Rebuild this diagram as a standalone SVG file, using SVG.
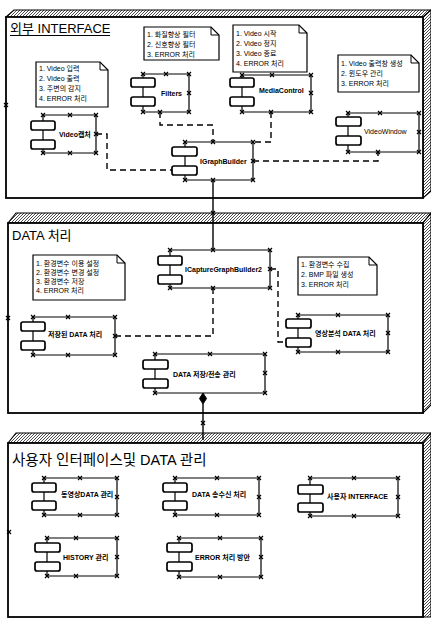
<svg xmlns="http://www.w3.org/2000/svg" xmlns:xlink="http://www.w3.org/1999/xlink" width="431" height="618" viewBox="0 0 431 618">
<style>
.pk{fill:#fff;stroke:#000;stroke-width:1.8}
.hf{fill:url(#hatch);stroke:#000;stroke-width:1.1}
.note{fill:#fff;stroke:#000;stroke-width:1.2}
.fold{fill:none;stroke:#000;stroke-width:1}
.ic{fill:#fff;stroke:#000;stroke-width:1.7}
.bx{fill:none;stroke:#000;stroke-width:1.2}
.dash{fill:none;stroke:#000;stroke-width:1.4;stroke-dasharray:6 4}
.solid{fill:none;stroke:#000;stroke-width:1.4}
text{font-family:"Liberation Sans","Noto Sans CJK KR",sans-serif;fill:#000}
.t{font-size:13px}
.nt{font-size:7px}
.lb{font-size:7px;font-weight:bold}
</style>
<defs>
<pattern id="hatch" width="3" height="3" patternUnits="userSpaceOnUse">
<rect width="3" height="3" fill="#fff"/>
<path d="M0,3L3,0" stroke="#000" stroke-width="0.7"/>
</pattern>
<path id="xm" d="M-2,-2L2,2M-2,2L2,-2" stroke="#000" stroke-width="1.2" fill="none"/>
</defs>
<rect width="431" height="618" fill="#fff"/>

<!-- Package 1 -->
<g id="pkg-external-interface">
<polygon class="hf" points="6,17 14,10 431,10 423,17"/>
<polygon class="hf" points="423,17 431,10 431,191 423,198"/>
<rect class="pk" x="6" y="17" width="417" height="181"/>
<text class="t" x="10" y="33">외부 INTERFACE</text>
<line x1="10" y1="35.5" x2="110" y2="35.5" stroke="#000" stroke-width="1"/>
<use href="#xm" x="6" y="105"/>
</g>

<!-- Package 2 -->
<g id="pkg-data">
<polygon class="hf" points="8,223 16,213 431,213 423,223"/>
<polygon class="hf" points="423,223 431,213 431,405 423,413"/>
<rect class="pk" x="8" y="223" width="415" height="190"/>
<text class="t" x="12" y="240">DATA 처리</text>
<use href="#xm" x="8" y="318"/>
</g>

<!-- Package 3 -->
<g id="pkg-user-data">
<polygon class="hf" points="8,443 16,433 431,433 423,443"/>
<polygon class="hf" points="423,443 431,433 431,617 423,617"/>
<rect class="pk" x="8" y="443" width="415" height="174"/>
<text class="t" x="12" y="465" style="font-size:14.5px">사용자 인터페이스및 DATA 관리</text>
<use href="#xm" x="9" y="532"/>
</g>

<!-- Notes -->
<g id="note-video">
<path class="note" d="M36,62H100L108,70V107H36Z"/>
<path class="fold" d="M100,62V70H108"/>
<text class="nt" x="39" y="71">1. Video 입력</text>
<text class="nt" x="39" y="81">2. Video 출력</text>
<text class="nt" x="39" y="91">3. 주변의 감지</text>
<text class="nt" x="39" y="101">4. ERROR 처리</text>
</g>
<g id="note-filters">
<path class="note" d="M144,27H211L219,35V60H144Z"/>
<path class="fold" d="M211,27V35H219"/>
<text class="nt" x="147" y="37">1. 화질향상 필터</text>
<text class="nt" x="147" y="47">2. 신호향상 필터</text>
<text class="nt" x="147" y="57">3. ERROR 처리</text>
</g>
<g id="note-mediacontrol">
<path class="note" d="M233,25H299L307,33V72H233Z"/>
<path class="fold" d="M299,25V33H307"/>
<text class="nt" x="236" y="36">1. Video 시작</text>
<text class="nt" x="236" y="46">2. Video 정지</text>
<text class="nt" x="236" y="56">3. Video 종료</text>
<text class="nt" x="236" y="66">4. ERROR 처리</text>
</g>
<g id="note-videowindow">
<path class="note" d="M338,55H411L419,63V92H338Z"/>
<path class="fold" d="M411,55V63H419"/>
<text class="nt" x="341" y="66">1. Video 출력창 생성</text>
<text class="nt" x="341" y="76">2. 윈도우 관리</text>
<text class="nt" x="341" y="86">3. ERROR 처리</text>
</g>
<g id="note-env">
<path class="note" d="M33,255H117L125,263V300H33Z"/>
<path class="fold" d="M117,255V263H125"/>
<text class="nt" x="36" y="266">1. 환경변수 이용 설정</text>
<text class="nt" x="36" y="275">2. 환경변수 변경 설정</text>
<text class="nt" x="36" y="284">3. 환경변수 저장</text>
<text class="nt" x="36" y="293">4. ERROR 처리</text>
</g>
<g id="note-bmp">
<path class="note" d="M298,257H369L377,265V295H298Z"/>
<path class="fold" d="M369,257V265H377"/>
<text class="nt" x="301" y="267">1. 환경변수 수집</text>
<text class="nt" x="301" y="277">2. BMP 파일 생성</text>
<text class="nt" x="301" y="287">3. ERROR 처리</text>
</g>

<!-- Connectors -->
<g id="connectors">
<path class="dash" d="M160,112V125H213V142"/>
<path class="dash" d="M271,112V142H253"/>
<path class="dash" d="M253,161H378V152"/>
<path class="dash" d="M96,134H107V170H172"/>
<path class="solid" d="M213,180V250"/>
<use href="#xm" x="213" y="213"/>
<path class="dash" d="M115,336H213V288"/>
<path class="dash" d="M270,269H278V342H286"/>
<path class="solid" d="M203,404V440"/>
<polygon points="203,393 206.5,398.5 203,404 199.5,398.5" fill="#000" stroke="#000" stroke-width="1"/>
<use href="#xm" x="203" y="423"/>
</g>

<!-- Components: package 1 -->
<g id="video-capture">
<rect class="ic" x="31" y="121" width="24" height="9" rx="2"/>
<rect class="ic" x="31" y="140" width="24" height="9" rx="2"/>
<path class="bx" d="M43,130V140M43,121V115H96V153H43V149"/>
<use href="#xm" x="43" y="115"/><use href="#xm" x="70" y="115"/><use href="#xm" x="96" y="115"/>
<use href="#xm" x="96" y="134"/><use href="#xm" x="96" y="153"/><use href="#xm" x="70" y="153"/><use href="#xm" x="43" y="153"/>
<text class="lb" x="59" y="137">Video캡처</text>
</g>
<g id="filters">
<rect class="ic" x="131" y="78" width="24" height="9" rx="2"/>
<rect class="ic" x="131" y="97" width="24" height="9" rx="2"/>
<path class="bx" d="M143,87V97M143,78V74H189V112H143V106"/>
<use href="#xm" x="143" y="74"/><use href="#xm" x="166" y="74"/><use href="#xm" x="189" y="74"/>
<use href="#xm" x="189" y="93"/><use href="#xm" x="189" y="112"/><use href="#xm" x="160" y="112"/><use href="#xm" x="143" y="112"/>
<text class="lb" x="161" y="96">Filters</text>
</g>
<g id="mediacontrol">
<rect class="ic" x="230" y="78" width="24" height="9" rx="2"/>
<rect class="ic" x="230" y="97" width="24" height="9" rx="2"/>
<path class="bx" d="M242,87V97M242,78V75H311V112H242V106"/>
<use href="#xm" x="242" y="75"/><use href="#xm" x="272" y="75"/><use href="#xm" x="311" y="75"/>
<use href="#xm" x="311" y="93"/><use href="#xm" x="311" y="112"/><use href="#xm" x="271" y="112"/><use href="#xm" x="242" y="112"/>
<text class="lb" x="259" y="93">MediaControl</text>
</g>
<g id="videowindow">
<rect class="ic" x="336" y="117" width="25" height="9" rx="2"/>
<rect class="ic" x="336" y="136" width="25" height="9" rx="2"/>
<path class="bx" d="M348,126V136M348,117V113H419V152H348V145"/>
<use href="#xm" x="348" y="113"/><use href="#xm" x="380" y="113"/><use href="#xm" x="419" y="113"/>
<use href="#xm" x="419" y="132"/><use href="#xm" x="419" y="152"/><use href="#xm" x="378" y="152"/><use href="#xm" x="348" y="152"/>
<text class="nt" x="364" y="134">VideoWindow</text>
</g>
<g id="igraphbuilder">
<rect class="ic" x="172" y="147" width="25" height="9" rx="2"/>
<rect class="ic" x="172" y="166" width="25" height="9" rx="2"/>
<path class="bx" d="M185,156V166M185,147V142H253V180H185V175"/>
<use href="#xm" x="185" y="142"/><use href="#xm" x="213" y="142"/><use href="#xm" x="253" y="142"/>
<use href="#xm" x="253" y="161"/><use href="#xm" x="253" y="180"/><use href="#xm" x="213" y="180"/><use href="#xm" x="185" y="180"/>
<text class="lb" x="200" y="164">IGraphBuilder</text>
</g>

<!-- Components: package 2 -->
<g id="icapturegraphbuilder2">
<rect class="ic" x="158" y="256" width="24" height="9" rx="2"/>
<rect class="ic" x="158" y="275" width="24" height="9" rx="2"/>
<path class="bx" d="M170,265V275M170,256V250H270V288H170V284"/>
<use href="#xm" x="170" y="250"/><use href="#xm" x="213" y="250"/><use href="#xm" x="270" y="250"/>
<use href="#xm" x="270" y="269"/><use href="#xm" x="270" y="288"/><use href="#xm" x="213" y="288"/><use href="#xm" x="170" y="288"/>
<text class="lb" x="185" y="272">ICaptureGraphBuilder2</text>
</g>
<g id="saved-data">
<rect class="ic" x="21" y="322" width="24" height="9" rx="2"/>
<rect class="ic" x="21" y="341" width="24" height="9" rx="2"/>
<path class="bx" d="M33,331V341M33,322V317H115V355H33V350"/>
<use href="#xm" x="33" y="317"/><use href="#xm" x="68" y="317"/><use href="#xm" x="115" y="317"/>
<use href="#xm" x="115" y="336"/><use href="#xm" x="115" y="355"/><use href="#xm" x="68" y="355"/><use href="#xm" x="33" y="355"/>
<text class="lb" x="48" y="337">저장된 DATA 처리</text>
</g>
<g id="image-analysis-data">
<rect class="ic" x="286" y="319" width="25" height="9" rx="2"/>
<rect class="ic" x="286" y="338" width="25" height="9" rx="2"/>
<path class="bx" d="M298,328V338M298,319V315H388V352H298V347"/>
<use href="#xm" x="298" y="315"/><use href="#xm" x="338" y="315"/><use href="#xm" x="388" y="315"/>
<use href="#xm" x="388" y="333"/><use href="#xm" x="388" y="352"/><use href="#xm" x="338" y="352"/><use href="#xm" x="298" y="352"/>
<text class="lb" x="315" y="336">영상분석 DATA 처리</text>
</g>
<g id="data-store-transfer">
<rect class="ic" x="143" y="360" width="25" height="9" rx="2"/>
<rect class="ic" x="143" y="379" width="25" height="9" rx="2"/>
<path class="bx" d="M155,369V379M155,360V354H265V393H155V388"/>
<use href="#xm" x="155" y="354"/><use href="#xm" x="210" y="354"/><use href="#xm" x="265" y="354"/>
<use href="#xm" x="265" y="373"/><use href="#xm" x="265" y="393"/><use href="#xm" x="155" y="393"/>
<text class="lb" x="173" y="377">DATA 저장/전송 관리</text>
</g>

<!-- Components: package 3 -->
<g id="video-data-mgmt">
<rect class="ic" x="32" y="483" width="24" height="9" rx="2"/>
<rect class="ic" x="32" y="501" width="24" height="9" rx="2"/>
<path class="bx" d="M44,492V501M44,483V478H117V515H44V510"/>
<use href="#xm" x="44" y="478"/><use href="#xm" x="80" y="478"/><use href="#xm" x="117" y="478"/>
<use href="#xm" x="117" y="497"/><use href="#xm" x="117" y="515"/><use href="#xm" x="80" y="515"/><use href="#xm" x="44" y="515"/>
<text class="lb" x="61" y="497">동영상DATA 관리</text>
</g>
<g id="data-txrx">
<rect class="ic" x="163" y="483" width="24" height="9" rx="2"/>
<rect class="ic" x="163" y="501" width="24" height="9" rx="2"/>
<path class="bx" d="M175,492V501M175,483V478H259V515H175V510"/>
<use href="#xm" x="175" y="478"/><use href="#xm" x="217" y="478"/><use href="#xm" x="259" y="478"/>
<use href="#xm" x="259" y="497"/><use href="#xm" x="259" y="515"/><use href="#xm" x="217" y="515"/><use href="#xm" x="175" y="515"/>
<text class="lb" x="192" y="497">DATA 송수신 처리</text>
</g>
<g id="user-interface">
<rect class="ic" x="298" y="485" width="25" height="9" rx="2"/>
<rect class="ic" x="298" y="503" width="25" height="9" rx="2"/>
<path class="bx" d="M310,494V503M310,485V478H398V516H310V512"/>
<use href="#xm" x="310" y="478"/><use href="#xm" x="354" y="478"/><use href="#xm" x="398" y="478"/>
<use href="#xm" x="398" y="497"/><use href="#xm" x="398" y="516"/><use href="#xm" x="354" y="516"/><use href="#xm" x="310" y="516"/>
<text class="lb" x="327" y="499">사용자 INTERFACE</text>
</g>
<g id="history-mgmt">
<rect class="ic" x="35" y="543" width="25" height="9" rx="2"/>
<rect class="ic" x="35" y="562" width="25" height="9" rx="2"/>
<path class="bx" d="M47,552V562M47,543V538H117V576H47V571"/>
<use href="#xm" x="47" y="538"/><use href="#xm" x="76" y="538"/><use href="#xm" x="117" y="538"/>
<use href="#xm" x="117" y="557"/><use href="#xm" x="117" y="576"/><use href="#xm" x="76" y="576"/><use href="#xm" x="47" y="576"/>
<text class="lb" x="63" y="560">HISTORY 관리</text>
</g>
<g id="error-handling">
<rect class="ic" x="167" y="543" width="25" height="9" rx="2"/>
<rect class="ic" x="167" y="562" width="25" height="9" rx="2"/>
<path class="bx" d="M179,552V562M179,543V538H261V577H179V571"/>
<use href="#xm" x="179" y="538"/><use href="#xm" x="220" y="538"/><use href="#xm" x="261" y="538"/>
<use href="#xm" x="261" y="557"/><use href="#xm" x="261" y="577"/><use href="#xm" x="220" y="577"/><use href="#xm" x="179" y="577"/>
<text class="lb" x="195" y="560">ERROR 처리 방안</text>
</g>
</svg>
